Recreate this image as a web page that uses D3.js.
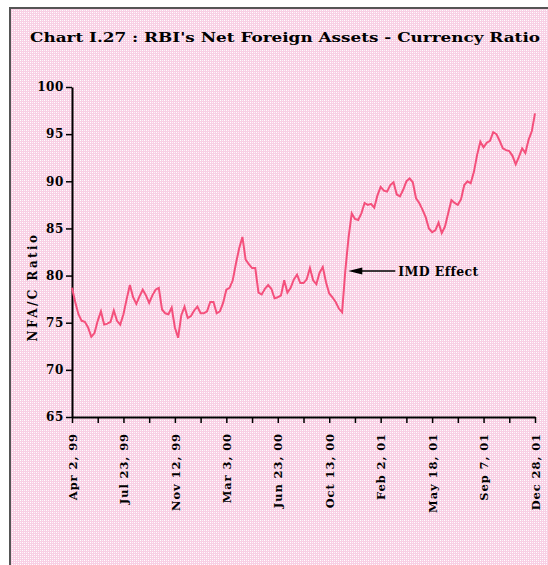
<!DOCTYPE html>
<html>
<head>
<meta charset="utf-8">
<script src="https://cdn.jsdelivr.net/npm/d3@7"></script>
<style>
  body { margin: 0; background: #fff; }
  text { font-family: "DejaVu Serif", serif; font-weight: bold; fill: #000; }
</style>
</head>
<body>
<div id="chart"></div>
<script>
// weekly NFA / currency ratio, Apr 2, 99 .. Dec 28, 01 (category axis)
var nfaRatio = [
  78.7, 77.2, 75.9, 75.2, 75.1, 74.5, 73.5, 73.9, 75.2, 76.2,
  74.8, 74.9, 75.1, 76.3, 75.2, 74.8, 75.9, 77.5, 79.0, 77.7,
  77.0, 77.8, 78.5, 77.9, 77.1, 77.9, 78.5, 78.7, 76.4, 76.0,
  75.9, 76.6, 74.5, 73.4, 75.8, 76.7, 75.5, 75.7, 76.3, 76.7,
  76.0, 76.0, 76.2, 77.2, 77.2, 76.0, 76.2, 77.1, 78.5, 78.7,
  79.5, 81.3, 82.9, 84.1, 81.7, 81.2, 80.8, 80.8, 78.2, 78.0,
  78.6, 79.0, 78.6, 77.6, 77.7, 77.9, 79.5, 78.2, 78.7, 79.6,
  80.1, 79.2, 79.2, 79.6, 80.8, 79.5, 79.1, 80.3, 80.9, 79.3,
  78.1, 77.7, 77.2, 76.5, 76.1, 80.5, 84.0, 86.6, 86.0, 85.9,
  86.6, 87.7, 87.5, 87.6, 87.2, 88.5, 89.4, 89.0, 88.9, 89.6,
  89.9, 88.6, 88.4, 89.1, 90.0, 90.3, 89.9, 88.2, 87.7, 87.0,
  86.2, 85.0, 84.6, 84.8, 85.6, 84.5, 85.2, 86.6, 88.0, 87.7,
  87.5, 88.1, 89.6, 90.0, 89.8, 91.0, 92.8, 94.2, 93.6, 94.1,
  94.3, 95.2, 95.0, 94.3, 93.5, 93.3, 93.2, 92.7, 91.8, 92.6,
  93.5, 93.0, 94.4, 95.3, 97.2
];
var tickLabels = ["Apr 2, 99", "Jul 23, 99", "Nov 12, 99", "Mar 3, 00", "Jun 23, 00",
                  "Oct 13, 00", "Feb 2, 01", "May 18, 01", "Sep 7, 01", "Dec 28, 01"];
var yTicks = [65, 70, 75, 80, 85, 90, 95, 100];
var titleText = "Chart I.27 : RBI's Net Foreign Assets - Currency Ratio";
var yTitle = "NFA/C Ratio";
var noteText = "IMD Effect";
var noteIndex = 85;   // week where the IMD inflow shows up

var width = 548, height = 565;
var margin = {left: 72, right: 13, top: 87, bottom: 148};

var svg = d3.select("#chart").append("svg")
    .attr("width", width)
    .attr("height", height);

// pink dotted background
var defs = svg.append("defs");
var pat = defs.append("pattern")
    .attr("id", "dots")
    .attr("width", 4).attr("height", 4)
    .attr("patternUnits", "userSpaceOnUse");
pat.append("rect").attr("width", 4).attr("height", 4).attr("fill", "#f8cfe4");
pat.append("rect").attr("x", 0).attr("y", 0).attr("width", 1).attr("height", 1).attr("fill", "#ffffff");
pat.append("rect").attr("x", 2).attr("y", 2).attr("width", 1).attr("height", 1).attr("fill", "#ffffff");
pat.append("rect").attr("x", 2).attr("y", 0).attr("width", 1).attr("height", 1).attr("fill", "#fdf0f7");
pat.append("rect").attr("x", 0).attr("y", 2).attr("width", 1).attr("height", 1).attr("fill", "#fdf0f7");

svg.append("rect")
    .attr("x", 10).attr("y", 8)
    .attr("width", 545).attr("height", 570)
    .attr("fill", "url(#dots)")
    .attr("stroke", "#555")
    .attr("stroke-width", 2);

svg.append("text")
    .attr("x", 30).attr("y", 42)
    .attr("font-size", 13)
    .attr("textLength", 510)
    .attr("lengthAdjust", "spacingAndGlyphs")
    .text(titleText);

var x = d3.scaleLinear()
    .domain([0, nfaRatio.length - 1])
    .range([margin.left, width - margin.right]);

var y = d3.scaleLinear()
    .domain([65, 100])
    .range([height - margin.bottom, margin.top]);

// y axis
var yAxis = svg.append("g")
    .attr("transform", "translate(" + margin.left + ",0)")
    .call(d3.axisLeft(y).tickValues(yTicks).tickSize(6).tickSizeOuter(0).tickPadding(2));
yAxis.select(".domain").attr("stroke-width", 2);
yAxis.selectAll(".tick line").attr("stroke-width", 1.5);
yAxis.selectAll("text")
    .attr("font-size", 12)
    .attr("letter-spacing", 0.6)
    .style("font-family", "DejaVu Serif")
    .style("font-weight", "bold");

// x axis, tick every 8 weeks, label every 16
var xAxis = svg.append("g")
    .attr("transform", "translate(0," + y(65) + ")")
    .call(d3.axisBottom(x)
        .tickValues(d3.range(0, nfaRatio.length, 8))
        .tickSize(6).tickSizeOuter(0)
        .tickFormat(function(d) { return d % 16 == 0 ? tickLabels[d / 16] : ""; }));
xAxis.select(".domain").attr("stroke-width", 2);
xAxis.selectAll(".tick line").attr("stroke-width", 1.5);
xAxis.selectAll("text")
    .attr("transform", "rotate(-90)")
    .attr("x", -16)
    .attr("y", 0)
    .attr("dy", "0.36em")
    .attr("text-anchor", "end")
    .attr("font-size", 11.5)
    .attr("letter-spacing", 0.9)
    .style("font-family", "DejaVu Serif")
    .style("font-weight", "bold");

svg.append("text")
    .attr("transform", "translate(37," + 287 + ") rotate(-90)")
    .attr("text-anchor", "middle")
    .attr("font-size", 12)
    .attr("letter-spacing", 2.4)
    .text(yTitle);

// the series
var line = d3.line()
    .x(function(d, i) { return x(i); })
    .y(function(d) { return y(d); });

svg.append("path")
    .datum(nfaRatio)
    .attr("fill", "none")
    .attr("stroke", "#f4507c")
    .attr("stroke-width", 2)
    .attr("d", line);

// annotation arrow
var ay = 271;
var ax = x(noteIndex) + 3;
svg.append("line")
    .attr("x1", ax + 8).attr("y1", ay)
    .attr("x2", ax + 47).attr("y2", ay)
    .attr("stroke", "#000").attr("stroke-width", 1.5);
svg.append("path")
    .attr("d", "M" + ax + "," + ay + " L" + (ax + 14) + "," + (ay - 3.5) + " L" + (ax + 14) + "," + (ay + 3.5) + " Z")
    .attr("fill", "#000");
svg.append("text")
    .attr("x", ax + 50).attr("y", ay + 5)
    .attr("font-size", 12.5)
    .attr("letter-spacing", 0.4)
    .text(noteText);
</script>
</body>
</html>
